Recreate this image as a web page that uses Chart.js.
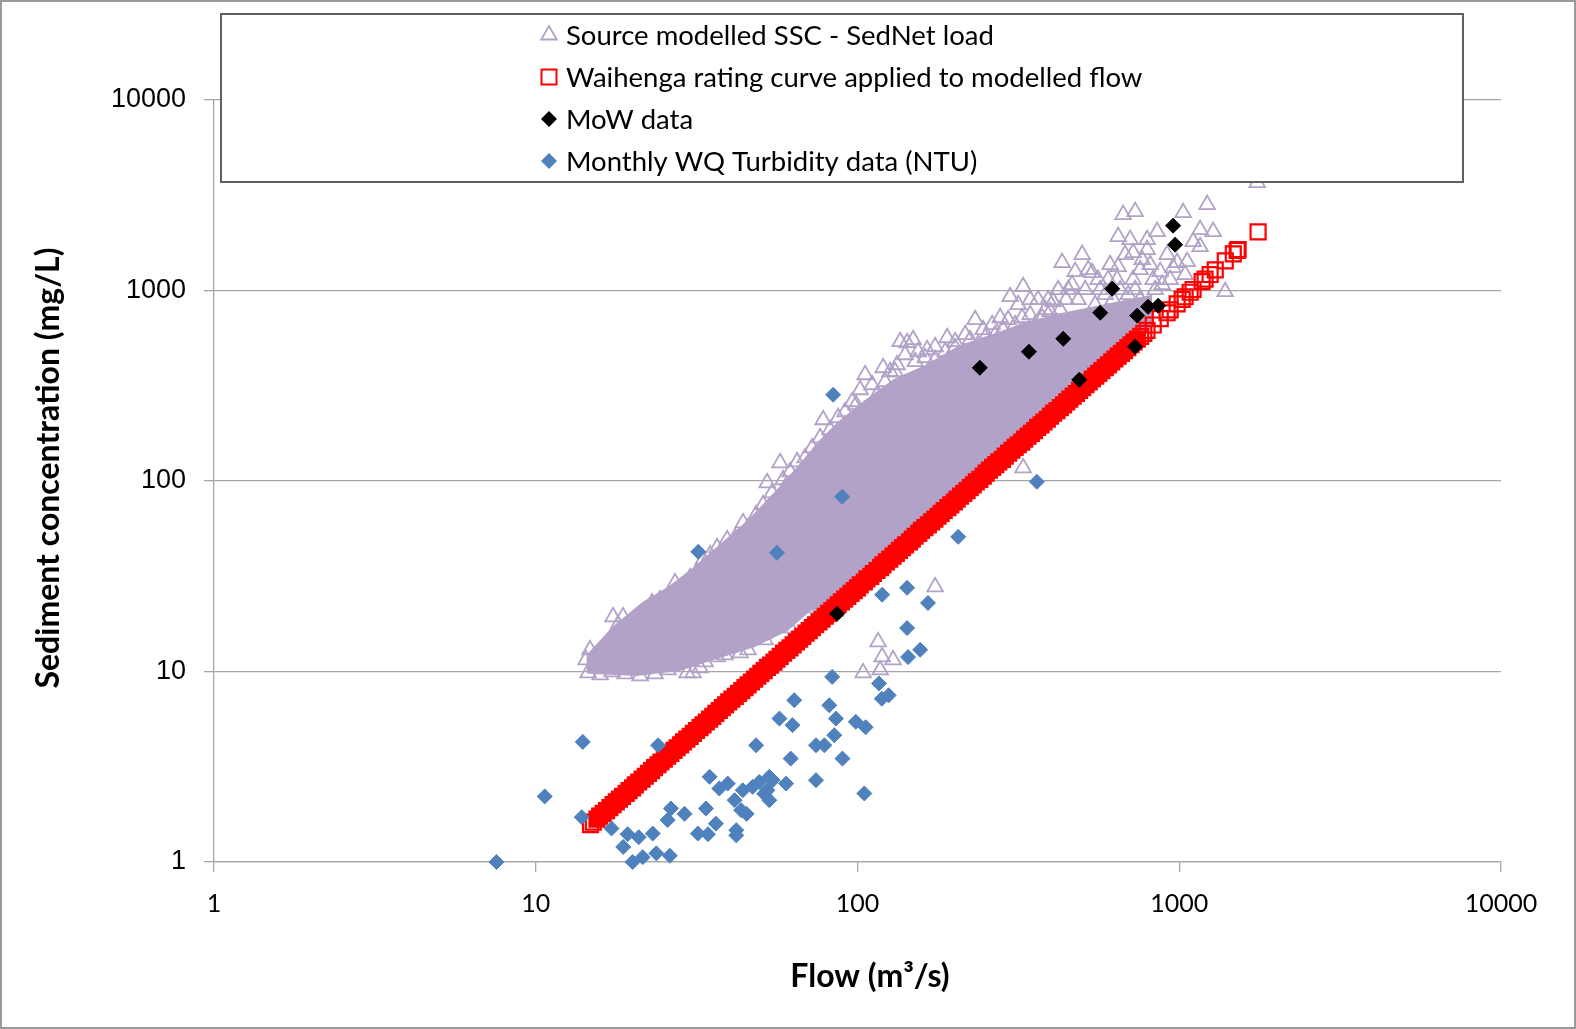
<!DOCTYPE html>
<html>
<head>
<meta charset="utf-8">
<title>Sediment concentration vs flow</title>
<script src="https://cdn.jsdelivr.net/npm/chart.js@4.4.1/dist/chart.umd.min.js"></script>
<style>
  html, body { margin: 0; padding: 0; background: #fff; }
  #wrap { position: relative; width: 1576px; height: 1029px; }
</style>
</head>
<body>
<div id="wrap"><canvas id="chart" width="1576" height="1029"></canvas></div>
<script>
// Sediment concentration vs flow (log-log scatter)
// values

const seriesLabels = [
    "Source modelled SSC - SedNet load",
    "Waihenga rating curve applied to modelled flow",
    "MoW data",
    "Monthly WQ Turbidity data (NTU)"
];
const flowTicks = [1, 10, 100, 1000, 10000];
const sscTicks = [1, 10, 100, 1000, 10000];

// SedNet modelled SSC: outline of the solid, overplotted core of the cloud
const coreFlow = [14.5, 14.5, 17.4, 21.6, 25.9, 30.9, 38.4, 46.0, 55.0, 65.9, 76.1, 87.9, 105.2, 130.5, 161.9, 208.2, 268, 332.4, 427.7,
    550.3, 682.9, 817.6, 817.6, 700, 500, 300, 200, 100, 84, 71.3, 60.4, 47.4, 34.8, 28.1, 20.6, 14.5];
const coreSSC = [9.84, 12.2, 17.0, 23.0, 27.6, 34.7, 47.7, 62.3, 85.4, 120, 160.7, 204.8, 261, 341, 399.6, 509.5, 589.5, 673.9, 751.6,
    818.6, 880.4, 935.4, 650, 509, 308, 143, 77.9, 27.5, 21.3, 21.1, 16.5, 13.5, 11.5, 10.2, 9.6, 9.84];

// SedNet modelled SSC: individual triangles on the fringe of the cloud and outliers
const sednetFlow = [14.33, 14.75, 15.51, 16.42, 17.39, 18.03, 18.68, 19.36, 20.50, 21.87, 22.99, 24.34, 25.78, 27.10, 28.50, 30.18, 31.72,
    33.12, 34.83, 36.61, 39.33, 41.65, 44.11, 45.71, 48.40, 50.88, 52.36, 54.28, 57.47, 58.71, 59.56, 61.72, 64.91, 68.73, 72.26, 76.53,
    78.19, 82.19, 87.03, 91.51, 96.21, 101.9, 105.6, 111.0, 120.1, 126.3, 135.7, 142.6, 148.9, 154.3, 164.6, 174.3, 189.9, 201.1, 216.1,
    232.1, 245.7, 262.1, 277.5, 298.1, 315.7, 327.2, 344.0, 364.2, 383.0, 405.6, 432.5, 451.5, 474.8, 499.1, 536.1, 567.6, 601.2, 641.2,
    645.8, 645.8, 669.3, 703.7, 719.0, 719.0, 729.4, 755.9, 794.8, 794.8, 829.8, 853.8, 872.4, 917.2, 957.4, 985.1, 1028, 1058, 1105,
    1161, 1161, 1221, 1275, 1389, 1747,
    14.54, 15.85, 17.27, 18.95, 21.10, 23.49, 25.78, 29.53, 30.83, 32.42, 33.61, 36.61, 38.76, 43.17, 45.71, 51.61, 61.72, 72.26,
    104.1, 115.9, 117.6, 119.3, 129.0, 174.3, 327.2,
    132.8, 140.6, 151.1, 162.3, 174.3, 187.3, 201.1, 211.4, 223.9, 237.1, 249.3, 267.8, 283.6, 293.9, 309.0, 324.9, 344.0, 356.5, 374.9,
    391.3, 397.0, 420.4, 426.5, 444.9, 464.6, 485.0, 510.0, 521.0, 547.8, 559.7, 588.5, 609.8, 623.1, 655.2, 679.1, 693.7, 729.4, 755.9,
    766.8, 812.1, 841.7, 885.0, 937.3, 1043, 93.5, 99.0, 115.1, 121.8, 130.9];
const sednetSSC = [11.51, 12.98, 12.23, 13.30, 19.36, 17.57, 19.36, 16.54, 18.22, 20.56, 22.93, 23.77, 24.95, 29.19, 27.49, 31.01, 33.35,
    38.56, 40.97, 44.60, 49.12, 50.31, 60.31, 56.78, 66.45, 74.99, 97.86, 86.70, 124.6, 101.5, 92.1, 111.8, 126.1, 132.4, 149.4, 168.6,
    209.6, 185.8, 214.8, 230.9, 260.6, 301.3, 361.3, 320.1, 393.0, 374.5, 538.4, 531.9, 551.6, 477.0, 488.7, 506.8, 565.0, 538.4, 586.1,
    702.5, 622.5, 661.3, 719.5, 927.8, 842.3, 1047, 894.6, 894.6, 792.9, 873.5, 1400, 1010, 1256, 1542, 1241, 1010, 1140, 1140,
    1917, 1334, 2501, 1849, 1579, 1140, 2594, 1286, 1849, 1638, 1140, 2037, 1256, 1542, 1318, 1400, 2563, 1417, 1804,
    2086, 1698, 2822, 2037, 985.6, 3683,
    9.83, 9.60, 9.95, 9.71, 9.48, 9.71, 10.19, 9.83, 9.83, 10.44, 11.23, 11.93, 12.23, 12.53, 12.98, 14.66, 16.94, 21.58,
    9.83, 14.30, 10.19, 11.93, 11.51, 27.81, 117.3,
    407.6, 460.1, 422.8, 443.7, 433.1, 477.0, 500.7, 460.1, 551.6, 519.2, 565.0, 586.1, 622.5, 702.5, 661.3, 719.5, 746.1, 661.3, 719.5,
    894.6, 774.0, 1010, 792.9, 894.6, 1073, 894.6, 1010, 1286, 842.3, 1140, 950.4, 1366, 894.6, 1010, 1542, 950.4, 1010, 894.6,
    1451, 1366, 1010, 1073, 1140, 1211, 197.3, 251.3, 283.6, 331.9, 374.5];

// Waihenga rating curve applied to modelled flow
const ratingFlow = [14.8, 15.1, 15.5, 15.8, 16.2, 16.6, 17.0, 17.4, 17.8, 18.2, 18.6, 19.1, 19.5, 20.0, 20.4, 20.9, 21.4, 21.9, 22.4, 22.9,
    23.4, 24.0, 24.5, 25.1, 25.7, 26.3, 26.9, 27.5, 28.2, 28.8, 29.5, 30.2, 30.9, 31.6, 32.4, 33.1, 33.9, 34.7, 35.5, 36.3,
    37.2, 38.0, 38.9, 39.8, 40.7, 41.7, 42.7, 43.7, 44.7, 45.7, 46.8, 47.9, 49.0, 50.1, 51.3, 52.5, 53.7, 55.0, 56.2, 57.5,
    58.9, 60.3, 61.7, 63.1, 64.6, 66.1, 67.6, 69.2, 70.8, 72.4, 74.1, 75.9, 77.6, 79.4, 81.3, 83.2, 85.1, 87.1, 89.1, 91.2,
    93.3, 95.5, 97.7, 100, 102, 105, 107, 110, 112, 115, 118, 120, 123, 126, 129, 132, 135, 138, 141, 145,
    148, 151, 155, 158, 162, 166, 170, 174, 178, 182, 186, 191, 195, 200, 204, 209, 214, 219, 224, 229,
    234, 240, 246, 251, 257, 263, 269, 275, 282, 288, 295, 302, 309, 316, 324, 331, 339, 347, 355, 363,
    372, 380, 389, 398, 407, 417, 427, 437, 447, 457, 468, 479, 490, 501, 513, 525, 537, 550, 562, 575,
    589, 603, 617, 631, 646, 661, 676, 692, 708, 724, 741, 759, 776, 794,
    830, 873, 917, 937, 985, 1021, 1043, 1081, 1104, 1178, 1203, 1247, 1294, 1390, 1472, 1514, 1524, 1758];
const ratingSSC = [1.57, 1.62, 1.68, 1.74, 1.80, 1.86, 1.93, 2.00, 2.07, 2.14, 2.21, 2.29, 2.37, 2.45, 2.54, 2.63, 2.72, 2.82, 2.92, 3.02,
    3.13, 3.24, 3.35, 3.47, 3.59, 3.72, 3.85, 3.98, 4.12, 4.27, 4.42, 4.57, 4.73, 4.90, 5.07, 5.25, 5.43, 5.62, 5.82, 6.03,
    6.24, 6.46, 6.68, 6.92, 7.16, 7.41, 7.67, 7.94, 8.22, 8.51, 8.81, 9.12, 9.44, 9.77, 10.1, 10.5, 10.8, 11.2, 11.6, 12.0,
    12.5, 12.9, 13.3, 13.8, 14.3, 14.8, 15.3, 15.9, 16.4, 17.0, 17.6, 18.2, 18.8, 19.5, 20.2, 20.9, 21.6, 22.4, 23.2, 24.0,
    24.8, 25.7, 26.6, 27.5, 28.5, 29.5, 30.6, 31.6, 32.7, 33.9, 35.1, 36.3, 37.6, 38.9, 40.3, 41.7, 43.2, 44.7, 46.2, 47.9,
    49.5, 51.3, 53.1, 55.0, 56.9, 58.9, 61.0, 63.1, 65.3, 67.6, 70.0, 72.4, 75.0, 77.6, 80.4, 83.2, 86.1, 89.1, 92.3, 95.5,
    98.9, 102, 106, 110, 114, 118, 122, 126, 130, 135, 140, 145, 150, 155, 160, 166, 172, 178, 184, 191,
    197, 204, 211, 219, 227, 234, 243, 251, 260, 269, 279, 288, 299, 309, 320, 331, 343, 355, 367, 380,
    394, 407, 422, 437, 452, 468, 484, 501, 519, 537, 556, 575, 596, 617,
    659, 711, 764, 791, 851, 899, 927, 979, 1012, 1114, 1148, 1213, 1282, 1429, 1556, 1622, 1641, 2032];
// the first ratingSolid squares overlap so heavily that they merge into a solid band
const ratingSolid = 171;

// MoW data
const mowFlow = [86.4, 240, 341, 436, 489, 568, 619, 729, 740, 800, 860, 957, 971];
const mowSSC = [20.1, 393, 477, 558, 340, 764, 1022, 507, 738, 822, 832, 2189, 1740];

// Monthly WQ turbidity data (NTU)
const wqFlow = [7.55, 10.66, 14.0, 13.9, 17.2, 18.7, 19.3, 20.0, 20.9, 21.5, 23.1, 23.7, 24.0, 26.1, 25.7, 26.3, 29.0, 31.9, 33.8, 34.7,
    34.3, 36.3, 37.2, 39.5, 42.0, 42.0, 41.5, 43.5, 45.2, 44.0, 47.2, 48.4, 49.5, 51.3, 52.5, 53.2, 54.5, 53.2, 57.2, 60.0,
    62.8, 63.6, 62.0, 74.3, 74.3, 78.9, 81.7, 85.7, 84.7, 89.8, 98.8, 106, 105, 116.6, 119, 125,
    84.0, 89.6, 56.2, 32.0, 361, 205.6, 119.3, 142.6, 165.6, 142.6, 156.6, 143.6, 83.4];
const wqTurbidity = [1.0, 2.21, 4.27, 1.72, 1.50, 1.20, 1.40, 1.0, 1.35, 1.06, 1.41, 1.11, 4.10, 1.08, 1.66, 1.91, 1.79, 1.41, 1.91, 2.80,
    1.40, 1.59, 2.43, 2.58, 1.47, 1.38, 2.11, 1.87, 1.79, 2.38, 2.48, 4.10, 2.63, 2.28, 2.38, 2.80, 2.69, 2.11, 5.66, 2.58,
    5.23, 7.07, 3.49, 2.69, 4.10, 4.10, 6.65, 5.66, 4.63, 3.49, 5.44, 5.10, 2.29, 8.65, 7.2, 7.5,
    283.6, 82.6, 42.0, 42.5, 99.0, 50.9, 25.3, 27.5, 22.9, 16.9, 13.0, 11.9, 9.37];

const LAVENDER = "#b3a2c7";
const RED = "#ff0000";
const BLUE = "#4f81bd";
const GRID = "#a6a6a6";
const CLEAR = "rgba(0,0,0,0)";

const pts = (xs, ys) => xs.map((x, i) => ({ x, y: ys[i] }));

// legend symbol drawn like the chart markers
function legendMarker(ctx, kind, x, y) {
    ctx.beginPath();
    if (kind === "triangle") {
        const r = 9;
        ctx.moveTo(x, y - r);
        ctx.lineTo(x + r * 0.866, y + r / 2);
        ctx.lineTo(x - r * 0.866, y + r / 2);
        ctx.closePath();
        ctx.strokeStyle = LAVENDER; ctx.lineWidth = 1.8; ctx.stroke();
    } else if (kind === "rect") {
        ctx.rect(x - 7.5, y - 7.5, 15, 15);
        ctx.strokeStyle = RED; ctx.lineWidth = 2; ctx.stroke();
    } else {
        const r = 8;
        ctx.moveTo(x - r, y); ctx.lineTo(x, y - r); ctx.lineTo(x + r, y); ctx.lineTo(x, y + r);
        ctx.closePath();
        ctx.fillStyle = kind; ctx.fill();
    }
}

const decor = {
    id: "decor",
    afterDraw(chart) {
        const { ctx } = chart;
        ctx.save();

        // legend box (sits over the top of the plot)
        ctx.fillStyle = "#fff";
        ctx.fillRect(221, 14, 1242, 168);
        ctx.strokeStyle = "#5f5f5f";
        ctx.lineWidth = 2;
        ctx.strokeRect(221, 14, 1242, 168);

        const kinds = ["triangle", "rect", "#000000", BLUE];
        const rows = [35, 77, 119, 161];
        ctx.font = "27.5px Lato";
        ctx.textBaseline = "middle";
        ctx.textAlign = "left";
        seriesLabels.forEach((label, i) => {
            legendMarker(ctx, kinds[i], 549, rows[i]);
            ctx.fillStyle = "#000";
            ctx.fillText(label, 566, rows[i] + 1);
        });

        // axis titles
        ctx.fillStyle = "#000";
        ctx.font = "bold 32px Lato";
        ctx.textAlign = "center";
        ctx.fillText("Flow (m³/s)", 870, 977);
        ctx.translate(49, 468);
        ctx.rotate(-Math.PI / 2);
        ctx.fillText("Sediment concentration (mg/L)", 0, 0);
        ctx.restore();

        // outer frame
        ctx.save();
        ctx.strokeStyle = "#999";
        ctx.lineWidth = 2;
        ctx.strokeRect(1, 1, 1574, 1027);
        ctx.restore();
    }
};

const logTicks = values => axis => { axis.ticks = values.map(v => ({ value: v })); };

new Chart(document.getElementById("chart"), {
    type: "scatter",
    data: {
        datasets: [
            {
                label: seriesLabels[3], data: pts(wqFlow, wqTurbidity), order: 1, clip: false,
                pointStyle: "rectRot", pointRadius: 7.5, pointBorderWidth: 1,
                pointBorderColor: BLUE, pointBackgroundColor: BLUE
            },
            {
                label: seriesLabels[2], data: pts(mowFlow, mowSSC), order: 2, clip: false,
                pointStyle: "rectRot", pointRadius: 7.5, pointBorderWidth: 1,
                pointBorderColor: "#000", pointBackgroundColor: "#000"
            },
            {
                label: seriesLabels[1], data: pts(ratingFlow, ratingSSC), order: 3, clip: false,
                pointStyle: "rect", pointRadius: 10.6, pointBorderWidth: 2.2,
                pointBorderColor: RED,
                pointBackgroundColor: c => (c.dataIndex > 1 && c.dataIndex < ratingSolid ? RED : CLEAR)
            },
            {
                label: seriesLabels[0], data: pts(sednetFlow, sednetSSC), order: 4, clip: false,
                pointStyle: "triangle", pointRadius: 9, pointBorderWidth: 1.8,
                pointBorderColor: LAVENDER, pointBackgroundColor: CLEAR
            },
            {
                type: "line", label: "core", data: pts(coreFlow, coreSSC), order: 5,
                fill: "shape", borderColor: LAVENDER, backgroundColor: LAVENDER,
                borderWidth: 2, pointRadius: 0, tension: 0
            }
        ]
    },
    options: {
        responsive: false,
        animation: false,
        events: [],
        layout: { padding: { left: 0, top: 100, right: 75, bottom: 0 } },
        plugins: { legend: { display: false }, tooltip: { enabled: false } },
        scales: {
            x: {
                type: "logarithmic", min: 1, max: 10000, position: "bottom",
                afterBuildTicks: logTicks(flowTicks),
                afterFit: axis => { axis.height = 167; },
                grid: { drawOnChartArea: false, drawTicks: true, tickLength: 10, color: GRID, lineWidth: 1.3 },
                border: { color: GRID, width: 1.3 },
                ticks: {
                    color: "#000", padding: 17, autoSkip: false, maxRotation: 0,
                    font: { family: "Lato", size: 25 },
                    callback: v => String(v)
                }
            },
            y: {
                type: "logarithmic", min: 1, max: 10000,
                afterBuildTicks: logTicks(sscTicks),
                afterFit: axis => { axis.width = 214; },
                grid: { color: GRID, lineWidth: 1.3, drawTicks: true, tickLength: 10 },
                border: { color: GRID, width: 1.3 },
                ticks: {
                    color: "#000", padding: 18, autoSkip: false,
                    font: { family: "Liberation Sans", size: 27 },
                    callback: v => String(v)
                }
            }
        }
    },
    plugins: [decor]
});
</script>
</body>
</html>
